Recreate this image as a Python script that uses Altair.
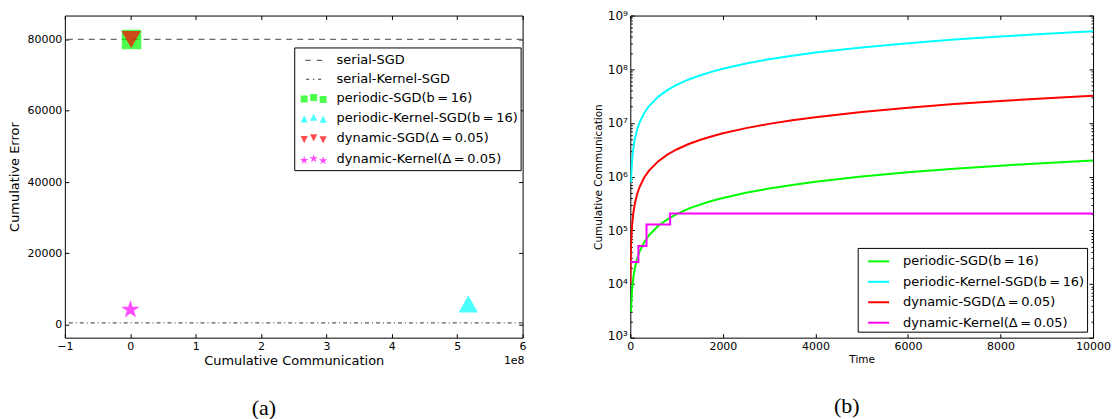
import json
import math
import altair as alt
import pandas as pd

FONT = "DejaVu Sans"
TS = "\u2009"  # thin space

# ---------------- panel (a) data ----------------
series_a = ["serial-SGD", "serial-Kernel-SGD", f"periodic-SGD(b{TS}={TS}16)",
            f"periodic-Kernel-SGD(b{TS}={TS}16)", f"dynamic-SGD(Δ{TS}={TS}0.05)",
            f"dynamic-Kernel(Δ{TS}={TS}0.05)"]
colors_a = ["#6a6a6a", "#333333", "#00ff00", "#00ffff", "#ff0000", "#ff00ff"]
legend_fill_a = ["#6a6a6a", "#333333", "#4dff4d", "#4dffff", "#ff4d4d", "#ff4dff"]

serial_names = series_a[:2]
serial_error = [80000, 500]

marker_names = series_a[2:]
marker_colors = ["#00ff00", "#00ffff", "#ff0000", "#ff00ff"]
marker_comm = [2.0e6, 5.17e8, 1.5e6, 2.0e5]
marker_error = [80000, 5800, 80000, 4200]

xticks_a = [-1e8, 0, 1e8, 2e8, 3e8, 4e8, 5e8, 6e8]
yticks_a = [0, 20000, 40000, 60000, 80000]
xdomain_a = [-1e8, 6e8]
ydomain_a = [-3640, 86710]
offset_text_a = ["1e8"]

# ---------------- panel (b) data ----------------
series_b = series_a[2:]
colors_b = ["#00ff00", "#00ffff", "#ff0000", "#ff00ff"]

green_t = [15, 20, 30, 40, 60, 80, 100, 150, 200, 300, 400, 600, 800, 1000, 1250, 1500,
           1750, 2000, 2500, 3000, 3500, 4000, 5000, 6000, 7000, 8000, 9000, 10000]
green_v = [3.0e3, 4.0e3, 6.0e3, 8.0e3, 1.2e4, 1.6e4, 2.0e4, 3.0e4, 4.0e4, 6.0e4, 8.0e4,
           1.2e5, 1.6e5, 2.0e5, 2.5e5, 3.0e5, 3.5e5, 4.0e5, 5.0e5, 6.0e5, 7.0e5, 8.0e5,
           1.0e6, 1.2e6, 1.4e6, 1.6e6, 1.8e6, 2.0e6]
cyan_t = [15, 20, 30, 40, 60, 80, 100, 150, 200, 300, 400, 600, 800, 1000, 1250, 1500,
          1750, 2000, 2500, 3000, 3500, 4000, 5000, 6000, 7000, 8000, 9000, 10000]
cyan_v = [7.7e5, 1.02e6, 1.53e6, 2.04e6, 3.06e6, 4.08e6, 5.1e6, 7.65e6, 1.02e7, 1.53e7,
          2.04e7, 3.06e7, 4.08e7, 5.1e7, 6.38e7, 7.65e7, 8.93e7, 1.02e8, 1.28e8, 1.53e8,
          1.79e8, 2.04e8, 2.55e8, 3.06e8, 3.57e8, 4.08e8, 4.59e8, 5.1e8]
red_t = [3, 5, 8, 10, 15, 20, 30, 40, 60, 80, 100, 150, 200, 300, 400, 600, 800, 1000,
         1250, 1500, 1750, 2000, 2500, 3000, 3500, 4000, 5000, 6000, 7000, 8000, 9000, 10000]
red_v = [1.0e4, 1.6e4, 2.56e4, 3.2e4, 4.8e4, 6.4e4, 9.6e4, 1.28e5, 1.92e5, 2.56e5, 3.2e5,
         4.8e5, 6.4e5, 9.6e5, 1.28e6, 1.92e6, 2.56e6, 3.2e6, 4.0e6, 4.8e6, 5.6e6, 6.4e6,
         8.0e6, 9.6e6, 1.12e7, 1.28e7, 1.6e7, 1.92e7, 2.24e7, 2.56e7, 2.88e7, 3.2e7]
magenta_t = [0, 175, 350, 860, 10000]
magenta_v = [25600, 51200, 128000, 204800, 204800]

xticks_b = [0, 2000, 4000, 6000, 8000, 10000]
yticks_b = [1e3, 1e4, 1e5, 1e6, 1e7, 1e8, 1e9]
yminor_b = [k * 10.0 ** e for e in range(3, 9) for k in range(2, 10)]

# ---------------- symbol paths (styling) ----------------
def sq(cx, cy, h):
    return (f"M{cx-h:.3f},{cy-h:.3f}L{cx+h:.3f},{cy-h:.3f}"
            f"L{cx+h:.3f},{cy+h:.3f}L{cx-h:.3f},{cy+h:.3f}Z")

def rect(x0, x1, h):
    return f"M{x0:.3f},{-h:.3f}L{x1:.3f},{-h:.3f}L{x1:.3f},{h:.3f}L{x0:.3f},{h:.3f}Z"

def tri_up(cx, cy, h):
    return f"M{cx:.3f},{cy-h:.3f}L{cx+h:.3f},{cy+h:.3f}L{cx-h:.3f},{cy+h:.3f}Z"

def tri_down(cx, cy, h):
    return f"M{cx:.3f},{cy+h:.3f}L{cx+h:.3f},{cy-h:.3f}L{cx-h:.3f},{cy-h:.3f}Z"

def star(cx, cy, r, inner=0.382):
    pts = []
    for k in range(10):
        a = math.radians(-90 + 36 * k)
        rr = r if k % 2 == 0 else r * inner
        pts.append(f"{cx + rr*math.cos(a):.3f},{cy + rr*math.sin(a):.3f}")
    return "M" + "L".join(pts) + "Z"

offs = [(-0.95, 0.12), (0.0, -0.05), (0.95, 0.15)]
triple = lambda f, h: "".join(f(cx, cy, h) for cx, cy in offs)
legend_paths_a = [
    rect(-0.85, -0.3, 0.07) + rect(0.3, 0.85, 0.07),
    rect(-0.75, -0.45, 0.05) + rect(-0.07, 0.07, 0.05) + rect(0.45, 0.75, 0.05),
    triple(sq, 0.35),
    triple(tri_up, 0.36),
    triple(tri_down, 0.36),
    triple(star, 0.45),
]
marker_shapes = ["square", "triangle-up", "triangle-down", star(0, 0, 1.0)]

# ---------------- panel (a) ----------------
W_A, W_B, H = 459, 464, 323

df_serial = pd.DataFrame({"series": serial_names, "error": serial_error})
df_marks = pd.DataFrame({"series": marker_names, "comm": marker_comm, "error": marker_error})
df_legend = pd.DataFrame({"series": series_a})

xs_a = alt.Scale(domain=xdomain_a, nice=False, zero=False)
ys_a = alt.Scale(domain=ydomain_a, nice=False, zero=False)

rule_sgd = alt.Chart(df_serial.iloc[[0]]).mark_rule(
    color=colors_a[0], strokeDash=[6, 5], strokeWidth=1.3
).encode(y=alt.Y("error:Q", scale=ys_a, axis=None))

rule_kernel = alt.Chart(df_serial.iloc[[1]]).mark_rule(
    color=colors_a[1], strokeDash=[4, 3, 1, 3], strokeWidth=1
).encode(y=alt.Y("error:Q", scale=ys_a, axis=None))

points = alt.Chart(df_marks).mark_point(
    filled=True, opacity=0.7, size=380, strokeWidth=0
).encode(
    x=alt.X("comm:Q", scale=xs_a, axis=alt.Axis(
        orient="bottom", values=xticks_a, labelExpr="format(datum.value / 1e8, 'd')",
        offset=-4, tickSize=4, domain=False, labelFlush=False, labelPadding=3,
        labelFontSize=11, title="Cumulative Communication", titleFontSize=13,
        titlePadding=3)),
    y=alt.Y("error:Q", scale=ys_a, axis=alt.Axis(
        orient="left", values=yticks_a, format="d",
        offset=-4, tickSize=4, domain=False, labelFlush=False, labelPadding=3,
        labelFontSize=11, title="Cumulative Error", titleFontSize=13,
        titlePadding=5)),
    color=alt.Color("series:N", scale=alt.Scale(domain=marker_names, range=marker_colors), legend=None),
    shape=alt.Shape("series:N", scale=alt.Scale(domain=marker_names, range=marker_shapes), legend=None),
)

legend_a = alt.Legend(
    orient="none", legendX=230, legendY=32, title=None,
    symbolSize=400, symbolOffset=6.5, labelOffset=12, padding=2, rowPadding=0.8,
    labelLimit=400, labelFontSize=13, labelFont=FONT, labelColor="black",
    strokeColor="black", fillColor="white", symbolOpacity=1,
)

legend_layer = alt.Chart(df_legend).transform_filter("false").mark_point(
    filled=True, size=400, opacity=1
).encode(
    color=alt.Color("series:N", scale=alt.Scale(domain=series_a, range=legend_fill_a), legend=legend_a),
    shape=alt.Shape("series:N", scale=alt.Scale(domain=series_a, range=legend_paths_a), legend=legend_a),
)

carrier_a = alt.Chart(df_marks).mark_point(opacity=0).encode(
    x=alt.X("comm:Q", scale=xs_a, axis=alt.Axis(
        orient="top", values=xticks_a, labels=False, offset=-4, tickSize=4,
        domain=False, title=None)),
    y=alt.Y("error:Q", scale=ys_a, axis=alt.Axis(
        orient="right", values=yticks_a, labels=False, offset=-4, tickSize=4,
        domain=False, title=None)),
)

offset_label = alt.Chart(pd.DataFrame({"t": offset_text_a})).mark_text(
    align="right", baseline="alphabetic", fontSize=11, font=FONT, color="black"
).encode(text="t:N", x=alt.value(W_A + 2), y=alt.value(H + 26))

left = alt.layer(rule_sgd, rule_kernel, points, carrier_a, offset_label, legend_layer).resolve_axis(
    x="independent", y="independent"
).resolve_scale(color="independent", shape="independent").properties(
    width=W_A, height=H,
    title=alt.TitleParams("(a)", orient="bottom", anchor="middle", font="Liberation Serif",
                          fontSize=22, fontWeight="normal", color="black", offset=31, dx=-30),
)

# ---------------- panel (b) ----------------
rows = []
for name, ts, vs in [(series_b[0], green_t, green_v), (series_b[1], cyan_t, cyan_v),
                     (series_b[2], red_t, red_v)]:
    for t, v in zip(ts, vs):
        rows.append({"series": name, "time": t, "comm": v})
df_lines = pd.DataFrame(rows)
df_step = pd.DataFrame({"series": series_b[3], "time": magenta_t, "comm": magenta_v})

xs_b = alt.Scale(domain=[0, 10000], nice=False, zero=False)
ys_b = alt.Scale(type="log", domain=[1e3, 1e9], nice=False)
color_b = alt.Scale(domain=series_b, range=colors_b)

sup = json.dumps(list("⁰¹²³⁴⁵⁶⁷⁸⁹"), ensure_ascii=False)
legend_b = alt.Legend(
    orient="bottom-right", offset=6, title=None, symbolType="stroke",
    symbolSize=441, symbolStrokeWidth=2, symbolOffset=7.5, labelOffset=13,
    padding=2, rowPadding=1.5,
    labelLimit=400, labelFontSize=13, labelFont=FONT, labelColor="black",
    strokeColor="black", fillColor="white",
)

lines = alt.Chart(df_lines).mark_line(strokeWidth=2, clip=True).encode(
    x=alt.X("time:Q", scale=xs_b, axis=alt.Axis(
        orient="bottom", values=xticks_b, format="d", offset=-4, tickSize=4,
        domain=False, labelFlush=False, labelPadding=3, labelFontSize=11,
        title="Time", titleFontSize=10.5, titlePadding=3)),
    y=alt.Y("comm:Q", scale=ys_b, axis=alt.Axis(
        orient="left", values=yticks_b,
        labelExpr=f"'10' + {sup}[round(log(datum.value) / LN10)]",
        offset=-4, tickSize=4, domain=False, labelFlush=True, labelFlushOffset=5,
        labelPadding=3, labelFontSize=12, title="Cumulative Communication",
        titleFontSize=10.5, titlePadding=4)),
    color=alt.Color("series:N", scale=color_b, legend=legend_b),
)

step = alt.Chart(df_step).mark_line(strokeWidth=2, interpolate="step-after", clip=True).encode(
    x=alt.X("time:Q", scale=xs_b, axis=None),
    y=alt.Y("comm:Q", scale=ys_b, axis=None),
    color=alt.Color("series:N", scale=color_b, legend=None),
)

carrier_b1 = alt.Chart(df_lines).mark_point(opacity=0).encode(
    x=alt.X("time:Q", scale=xs_b, axis=alt.Axis(
        orient="top", values=xticks_b, labels=False, offset=-4, tickSize=4,
        domain=False, title=None)),
    y=alt.Y("comm:Q", scale=ys_b, axis=alt.Axis(
        orient="right", values=yticks_b, labels=False, offset=-4, tickSize=4,
        domain=False, title=None)),
)
carrier_b2 = alt.Chart(df_lines).mark_point(opacity=0).encode(
    x=alt.X("time:Q", scale=xs_b, axis=None),
    y=alt.Y("comm:Q", scale=ys_b, axis=alt.Axis(
        orient="left", values=yminor_b, labels=False, offset=-2, tickSize=2,
        domain=False, title=None)),
)
carrier_b3 = alt.Chart(df_lines).mark_point(opacity=0).encode(
    x=alt.X("time:Q", scale=xs_b, axis=None),
    y=alt.Y("comm:Q", scale=ys_b, axis=alt.Axis(
        orient="right", values=yminor_b, labels=False, offset=-2, tickSize=2,
        domain=False, title=None)),
)

right = alt.layer(lines, step, carrier_b1, carrier_b2, carrier_b3).resolve_axis(
    x="independent", y="independent"
).properties(
    width=W_B, height=H,
    title=alt.TitleParams("(b)", orient="bottom", anchor="middle", font="Liberation Serif",
                          fontSize=22, fontWeight="normal", color="black", offset=31, dx=-15),
)

chart = alt.hconcat(left, right, spacing=108, bounds="flush", padding=0).resolve_scale(
    color="independent", shape="independent"
).configure_view(
    stroke="black", strokeWidth=1
).configure_axis(
    labelFont=FONT, titleFont=FONT, labelColor="black", titleColor="black",
    tickColor="black", tickWidth=1, grid=False, titleFontWeight="normal",
).configure_text(font=FONT)

chart.save("out.html", embed_options={"renderer": "svg", "actions": False})
